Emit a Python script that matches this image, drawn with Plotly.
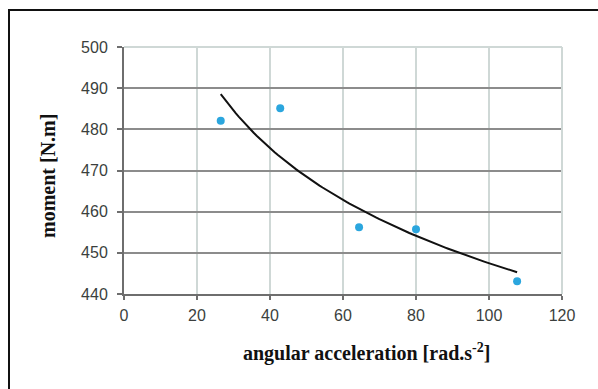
import numpy as np
import plotly.graph_objects as go

accel = [26.5, 42.8, 64.4, 80.0, 107.7]
moment = [482.1, 485.1, 456.2, 455.7, 443.1]

x_ticks = [0, 20, 40, 60, 80, 100, 120]
y_ticks = [440, 450, 460, 470, 480, 490, 500]

x_title = "<b>angular acceleration [rad.s<sup>-2</sup>]</b>"
y_title = "<b>moment [N.m]</b>"

# power trend line fitted to the data
b, ln_a = np.polyfit(np.log(accel), np.log(moment), 1)
xt = np.linspace(min(accel), max(accel), 100)
yt = np.exp(ln_a) * xt ** b

fig = go.Figure()
fig.add_trace(go.Scatter(x=xt, y=yt, mode="lines",
                         line=dict(color="#111111", width=2), hoverinfo="skip"))
fig.add_trace(go.Scatter(x=accel, y=moment, mode="markers",
                         marker=dict(color="#2ba6de", size=8)))

W, H = 598, 389
L, R, T, B = 124, 36, 47, 95
pw, ph = W - L - R, H - T - B

def px(x):
    return (x - L) / pw

def py(y):
    return (H - B - y) / ph

tickfont = dict(family="Liberation Sans, Arial", size=16, color="#3b3f3d")
titlefont = dict(family="Liberation Serif, Times New Roman", size=20, color="#111111")

fig.update_layout(
    width=W, height=H,
    margin=dict(l=L, r=R, t=T, b=B),
    paper_bgcolor="white", plot_bgcolor="white",
    showlegend=False,
    xaxis=dict(range=[0, 120], tickvals=x_ticks, showgrid=True,
               gridcolor="#cfd8d6", gridwidth=2,
               showline=True, linecolor="#6e6e6e", linewidth=2,
               ticks="outside", ticklen=4, tickcolor="#6e6e6e", tickwidth=2,
               zeroline=False, tickfont=tickfont, ticklabelstandoff=2),
    yaxis=dict(range=[440, 500], tickvals=y_ticks, showgrid=True,
               gridcolor="#8c8c8c", gridwidth=2,
               showline=True, linecolor="#6e6e6e", linewidth=2,
               ticks="outside", ticklen=5, tickcolor="#6e6e6e", tickwidth=2,
               zeroline=False, tickfont=tickfont, ticklabelstandoff=6),
    annotations=[
        dict(text=x_title, xref="paper", yref="paper", x=px(366), y=py(352),
             xanchor="center", yanchor="middle", showarrow=False, font=titlefont),
        dict(text=y_title, xref="paper", yref="paper", x=px(48), y=py(176),
             xanchor="center", yanchor="middle", showarrow=False, font=titlefont,
             textangle=-90),
    ],
    shapes=[
        dict(type="line", xref="paper", yref="paper", x0=0, x1=1, y0=1, y1=1,
             line=dict(color="#cfd8d6", width=2), layer="above"),
        dict(type="line", xref="paper", yref="paper", x0=1, x1=1, y0=0, y1=1,
             line=dict(color="#cfd8d6", width=2), layer="above"),
        dict(type="rect", xref="paper", yref="paper",
             x0=px(9), x1=px(605), y0=py(396), y1=py(10),
             line=dict(color="#111111", width=2), fillcolor="rgba(0,0,0,0)"),
    ],
)

fig.write_html("out.html")
